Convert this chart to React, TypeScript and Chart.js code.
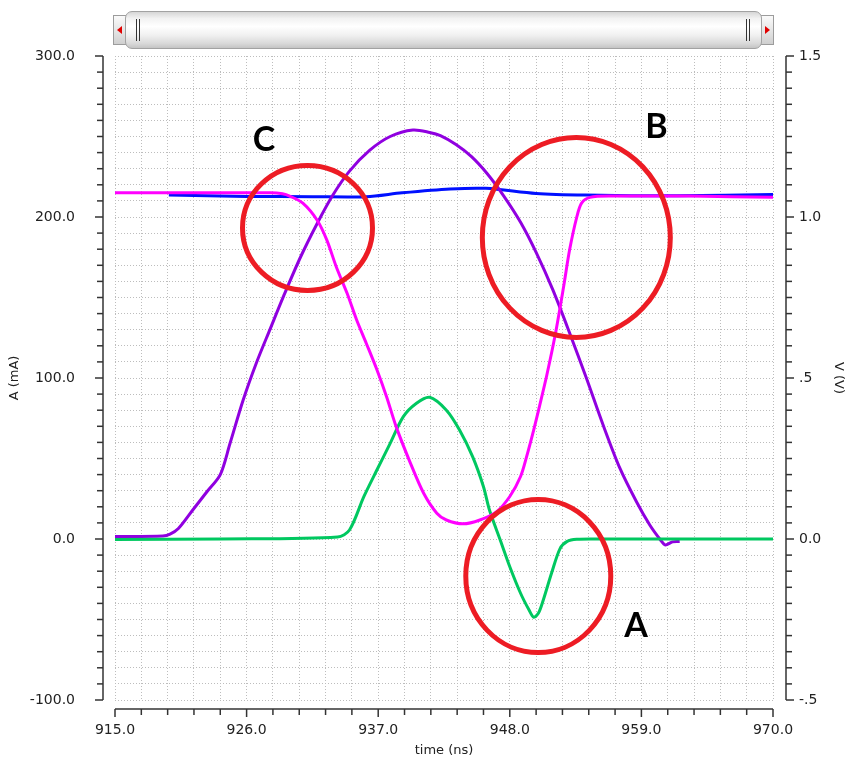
import React, { useEffect, useRef } from 'react';
import { Chart, registerables } from 'chart.js';

Chart.register(...registerables);

// ---------------- data ----------------
// time axis (ns)
const X_MIN = 915;
const X_MAX = 970;
const X_MINOR_STEP = 2.2;
const X_MAJOR_STEP = 11;

// left axis A (mA)
const Y_MIN = -100;
const Y_MAX = 300;
const Y_MINOR_STEP = 10;
const Y_MAJOR_STEP = 100;

// right axis V (V)
const V_MIN = -0.5;
const V_MAX = 1.5;
const V_MINOR_STEP = 0.05;
const rightTickValues = [1.5, 1.0, 0.5, 0.0, -0.5];
const rightTickLabels = ['1.5', '1.0', '.5', '0.0', '-.5'];

// purple current (mA)
const purpleTime = [915.0, 919.0, 919.6, 920.3, 921.5, 922.7, 923.8, 924.6, 925.7, 926.8, 928.0, 929.1, 930.5, 931.9, 933.2, 934.6, 936.3, 938.0, 939.9, 941.3, 942.2, 943.5, 944.8, 946.1, 947.5, 948.9, 950.2, 951.6, 953.0, 954.4, 955.8, 957.2, 958.6, 959.7, 960.6, 961.0, 961.6, 962.2];
const purpleCurrent = [1.5, 1.8, 3, 6.5, 18, 29.5, 40, 59, 86, 109, 131, 151, 175, 196, 213.5, 228.5, 241.5, 250, 254, 252.5, 250.5, 245, 237.5, 227, 213, 196.7, 178, 154.7, 128, 100, 70.8, 44, 23, 8.7, -0.6, -3.7, -1.8, -1.6];

// green current (mA)
const greenTime = [915.0, 923.8, 933.6, 934.6, 935.8, 936.9, 938.0, 939.1, 940.2, 941.3, 942.7, 943.8, 944.9, 945.8, 946.3, 947.2, 948.0, 948.9, 949.6, 950.0, 950.4, 950.8, 951.5, 952.2, 952.8, 953.6, 955.3, 970.0];
const greenCurrent = [-0.3, 0, 1.2, 5.6, 26.3, 43, 59.4, 76, 84.3, 88, 80, 67.7, 51, 32.5, 18, -0.6, -17.2, -33.7, -44, -48.6, -46, -37.9, -21, -6, -1.5, -0.2, 0, 0];

// magenta voltage (V)
const magentaTime = [915.0, 928.0, 929.0, 929.6, 930.7, 931.9, 932.7, 933.5, 934.4, 935.2, 936.0, 936.9, 937.7, 938.5, 939.7, 940.8, 941.9, 942.7, 944.1, 945.5, 946.9, 948.0, 948.9, 949.4, 950.0, 950.5, 951.1, 951.8, 952.5, 953.0, 953.6, 954.0, 954.7, 956.6, 963.1, 970.0];
const magentaVoltage = [1.075, 1.075, 1.072, 1.065, 1.043, 0.99, 0.929, 0.845, 0.763, 0.68, 0.608, 0.525, 0.442, 0.349, 0.235, 0.142, 0.08, 0.059, 0.047, 0.059, 0.085, 0.132, 0.194, 0.255, 0.339, 0.415, 0.51, 0.635, 0.784, 0.898, 1.0, 1.043, 1.061, 1.065, 1.065, 1.061];

// blue voltage (V)
const blueTime = [919.5, 926.0, 931.5, 936.0, 939.0, 943.0, 946.0, 950.2, 954.3, 962.0, 970.0];
const blueVoltage = [1.068, 1.064, 1.063, 1.063, 1.075, 1.087, 1.089, 1.073, 1.068, 1.066, 1.07];

// annotations (data coordinates: ns, mA)
const markLetters = ['C', 'B', 'A'];
const markLetterTime = [927.45, 960.26, 958.55];
const markLetterCurrent = [248.1, 255.6, -54];
const circleTime = [931.09, 953.56, 950.38];
const circleCurrent = [193.2, 187.3, -23];

// ---------------- styles ----------------
const CIRCLE_RADII = [
  { rx: 65, ry: 62.5 },
  { rx: 94, ry: 100 },
  { rx: 72.5, ry: 76.5 },
];
const CIRCLE_COLOR = '#ed1c24';
const AXIS_COLOR = '#333333';
const TEXT_COLOR = '#222222';
const GRID_COLOR = '#bdbdbd';
const TICK_FONT = { family: 'DejaVu Sans', size: 14 };
const TITLE_FONT = { family: 'DejaVu Sans', size: 13 };
const LINE_WIDTH = 3;
const TENSION = 0.3;

const near = (a: number, b: number) => Math.abs(a - b) < 1e-6;
const isMultiple = (v: number, origin: number, step: number) => {
  const q = (v - origin) / step;
  return Math.abs(q - Math.round(q)) < 1e-6;
};

const makeTicks = (min: number, max: number, step: number) => {
  const n = Math.round((max - min) / step);
  const out: { value: number }[] = [];
  for (let i = 0; i <= n; i++) out.push({ value: +(min + i * step).toFixed(6) });
  return out;
};

const pairs = (xs: number[], ys: number[]) => xs.map((x, i) => ({ x, y: ys[i] }));

const offsetAxesPlugin = {
  id: 'offsetAxes',
  afterDraw(chart: any) {
    const { ctx, chartArea: ca, scales } = chart;
    ctx.save();
    ctx.strokeStyle = AXIS_COLOR;
    ctx.lineWidth = 1.5;
    const line = (x1: number, y1: number, x2: number, y2: number) => {
      ctx.beginPath();
      ctx.moveTo(x1, y1);
      ctx.lineTo(x2, y2);
      ctx.stroke();
    };
    // left axis
    const xL = ca.left - 12;
    line(xL, ca.top, xL, ca.bottom);
    scales.y.ticks.forEach((t: any) => {
      const y = scales.y.getPixelForValue(t.value);
      const major = isMultiple(t.value, 0, Y_MAJOR_STEP);
      line(xL - (major ? 8 : 6), y, xL, y);
    });
    // right axis
    const xR = ca.right + 13;
    line(xR, ca.top, xR, ca.bottom);
    scales.y1.ticks.forEach((t: any) => {
      const y = scales.y1.getPixelForValue(t.value);
      const major = rightTickValues.some((v) => near(v, t.value));
      line(xR, y, xR + (major ? 8 : 6), y);
    });
    // bottom axis
    const yB = ca.bottom + 9;
    line(ca.left, yB, ca.right, yB);
    scales.x.ticks.forEach((t: any) => {
      const x = scales.x.getPixelForValue(t.value);
      const major = isMultiple(t.value, X_MIN, X_MAJOR_STEP);
      line(x, yB, x, yB + (major ? 8 : 6));
    });
    ctx.restore();
  },
};

const annotationPlugin = {
  id: 'markAnnotations',
  afterDatasetsDraw(chart: any) {
    const { ctx, scales } = chart;
    ctx.save();
    ctx.strokeStyle = CIRCLE_COLOR;
    ctx.lineWidth = 5;
    circleTime.forEach((t, i) => {
      const cx = scales.x.getPixelForValue(t);
      const cy = scales.y.getPixelForValue(circleCurrent[i]);
      ctx.beginPath();
      ctx.ellipse(cx, cy, CIRCLE_RADII[i].rx, CIRCLE_RADII[i].ry, 0, 0, Math.PI * 2);
      ctx.stroke();
    });
    ctx.fillStyle = '#000000';
    ctx.font = 'bold 34px Lato, "Open Sans", sans-serif';
    ctx.textAlign = 'center';
    ctx.textBaseline = 'middle';
    markLetters.forEach((s, i) => {
      const x = scales.x.getPixelForValue(markLetterTime[i]);
      const y = scales.y.getPixelForValue(markLetterCurrent[i]);
      ctx.fillText(s, x, y);
    });
    ctx.restore();
  },
};

function ScrollBar() {
  const btn: React.CSSProperties = {
    position: 'absolute',
    top: 15,
    width: 15,
    height: 30,
    boxSizing: 'border-box',
    border: '1px solid #9c9c9c',
    background: 'linear-gradient(#fafafa, #e2e2e2 60%, #cfcfcf)',
  };
  const grip: React.CSSProperties = {
    position: 'absolute',
    top: 19,
    width: 4,
    height: 22,
    boxSizing: 'border-box',
    borderLeft: '1px solid #333',
    borderRight: '1px solid #333',
  };
  return (
    <>
      <div style={{ ...btn, left: 113 }}>
        <div style={{ position: 'absolute', left: 3, top: 10, width: 0, height: 0, borderTop: '4px solid transparent', borderBottom: '4px solid transparent', borderRight: '5px solid #e00000' }} />
      </div>
      <div style={{ ...btn, left: 759 }}>
        <div style={{ position: 'absolute', left: 5, top: 10, width: 0, height: 0, borderTop: '4px solid transparent', borderBottom: '4px solid transparent', borderLeft: '5px solid #e00000' }} />
      </div>
      <div
        style={{
          position: 'absolute',
          left: 125,
          top: 11,
          width: 637,
          height: 38,
          boxSizing: 'border-box',
          borderRadius: 7,
          border: '1px solid #a2a2a2',
          background: 'linear-gradient(#d6d6d6 0%, #f2f2f2 18%, #ffffff 40%, #f0f0f0 65%, #d8d8d8 88%, #c4c4c4 100%)',
        }}
      />
      <div style={{ ...grip, left: 136 }} />
      <div style={{ ...grip, left: 746 }} />
    </>
  );
}

export default function App() {
  const canvasRef = useRef<HTMLCanvasElement | null>(null);

  useEffect(() => {
    if (!canvasRef.current) return;
    const lineStyle = { borderWidth: LINE_WIDTH, pointRadius: 0, tension: TENSION };
    const chart = new Chart(canvasRef.current, {
      type: 'line',
      data: {
        datasets: [
          { label: 'magenta', data: pairs(magentaTime, magentaVoltage), yAxisID: 'y1', borderColor: '#ff00ff', order: 0, ...lineStyle },
          { label: 'green', data: pairs(greenTime, greenCurrent), yAxisID: 'y', borderColor: '#00c860', order: 1, ...lineStyle },
          { label: 'purple', data: pairs(purpleTime, purpleCurrent), yAxisID: 'y', borderColor: '#9000e0', order: 2, ...lineStyle },
          { label: 'blue', data: pairs(blueTime, blueVoltage), yAxisID: 'y1', borderColor: '#0010ff', order: 3, ...lineStyle },
        ] as any,
      },
      options: {
        animation: false,
        responsive: false,
        devicePixelRatio: 1,
        layout: { padding: { top: 56, left: 0, right: 0, bottom: 0 } },
        plugins: {
          legend: { display: false },
          tooltip: { enabled: false },
        },
        scales: {
          x: {
            type: 'linear',
            position: 'bottom',
            min: X_MIN,
            max: X_MAX,
            afterBuildTicks: (s: any) => {
              s.ticks = makeTicks(X_MIN, X_MAX, X_MINOR_STEP);
            },
            afterFit: (s: any) => {
              s.height = 69;
            },
            ticks: {
              autoSkip: false,
              maxRotation: 0,
              minRotation: 0,
              padding: 22,
              font: TICK_FONT,
              color: TEXT_COLOR,
              callback: (v: any) => (isMultiple(Number(v), X_MIN, X_MAJOR_STEP) ? Number(v).toFixed(1) : ''),
            },
            grid: { color: GRID_COLOR, lineWidth: 1, drawTicks: false, tickLength: 0 },
            border: { display: false, dash: [1, 2] },
            title: { display: true, text: 'time (ns)', font: TITLE_FONT, color: TEXT_COLOR, padding: { top: 0, bottom: 11 } },
          },
          y: {
            type: 'linear',
            position: 'left',
            min: Y_MIN,
            max: Y_MAX,
            afterBuildTicks: (s: any) => {
              s.ticks = makeTicks(Y_MIN, Y_MAX, Y_MINOR_STEP);
            },
            afterFit: (s: any) => {
              s.width = 115;
            },
            ticks: {
              autoSkip: false,
              padding: 40,
              font: TICK_FONT,
              color: TEXT_COLOR,
              callback: (v: any) => (isMultiple(Number(v), 0, Y_MAJOR_STEP) ? Number(v).toFixed(1) : ''),
            },
            grid: { color: GRID_COLOR, lineWidth: 1, drawTicks: false, tickLength: 0 },
            border: { display: false, dash: [1, 2] },
            title: { display: true, text: 'A (mA)', font: TITLE_FONT, color: TEXT_COLOR, padding: { top: 7, bottom: 0 } },
          },
          y1: {
            type: 'linear',
            position: 'right',
            min: V_MIN,
            max: V_MAX,
            afterBuildTicks: (s: any) => {
              s.ticks = makeTicks(V_MIN, V_MAX, V_MINOR_STEP);
            },
            afterFit: (s: any) => {
              s.width = 78;
            },
            ticks: {
              autoSkip: false,
              padding: 26,
              font: TICK_FONT,
              color: TEXT_COLOR,
              callback: (v: any) => {
                const idx = rightTickValues.findIndex((r) => near(r, Number(v)));
                return idx >= 0 ? rightTickLabels[idx] : '';
              },
            },
            grid: { drawOnChartArea: false, drawTicks: false, tickLength: 0 },
            border: { display: false },
            title: { display: true, text: 'V (V)', font: TITLE_FONT, color: TEXT_COLOR, padding: { top: 5, bottom: 0 } },
          },
        },
      } as any,
      plugins: [offsetAxesPlugin, annotationPlugin],
    });
    return () => chart.destroy();
  }, []);

  return (
    <div style={{ position: 'fixed', left: 0, top: 0, width: 851, height: 769, background: '#ffffff' }}>
      <canvas ref={canvasRef} width={851} height={769} style={{ position: 'absolute', left: 0, top: 0, width: 851, height: 769 }} />
      <ScrollBar />
    </div>
  );
}
